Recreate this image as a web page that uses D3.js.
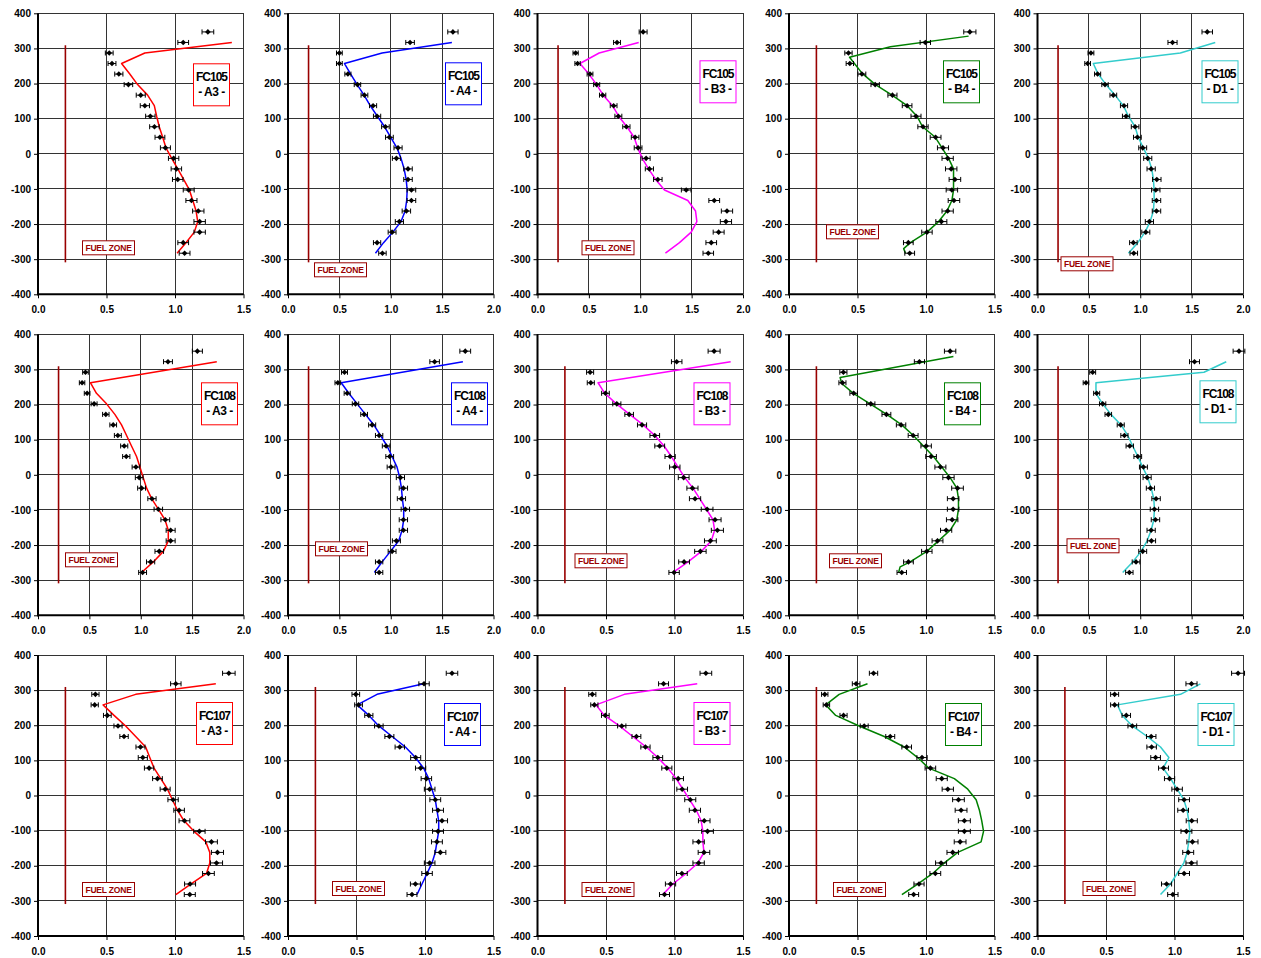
<!DOCTYPE html>
<html>
<head>
<meta charset="utf-8">
<script src="https://cdnjs.cloudflare.com/ajax/libs/d3/7.8.5/d3.min.js"></script>
<style>
  body { margin: 0; background: #fff; }
  svg { display: block; font-family: Arial, "Liberation Sans", sans-serif; }
</style>
</head>
<body>
<svg width="1261" height="958"></svg>
<script>
// heights (mm) of the measured points, one list per run
const levels105 = [347, 317, 287, 257, 227, 197, 167, 137, 107, 77, 47, 17, -13, -43, -73, -103, -133, -163, -193, -223, -253, -283];
const levels108 = [352, 322, 292, 262, 232, 202, 172, 142, 112, 82, 52, 22, -8, -38, -68, -98, -128, -158, -188, -218, -248, -278];
const levels107 = [348, 318, 288, 258, 228, 198, 168, 138, 108, 78, 48, 18, -12, -42, -72, -102, -132, -162, -192, -222, -252, -282];

// measured values (top to bottom, same order as the levels)
const fc105_A3 = [1.24, 1.06, 0.52, 0.54, 0.59, 0.66, 0.75, 0.78, 0.82, 0.85, 0.89, 0.93, 0.99, 1.01, 1.02, 1.10, 1.12, 1.17, 1.18, 1.18, 1.06, 1.07];
const fc105_A4 = [1.605, 1.188, 0.50, 0.50, 0.583, 0.676, 0.744, 0.828, 0.867, 0.948, 0.987, 1.071, 1.055, 1.168, 1.168, 1.201, 1.201, 1.152, 1.084, 1.013, 0.867, 0.919];
const fc105_B3 = [1.028, 0.774, 0.371, 0.390, 0.511, 0.576, 0.634, 0.741, 0.787, 0.865, 0.950, 0.979, 1.057, 1.089, 1.171, 1.447, 1.720, 1.844, 1.834, 1.763, 1.691, 1.662];
const fc105_B4 = [1.320, 0.995, 0.434, 0.444, 0.532, 0.629, 0.755, 0.862, 0.927, 0.978, 1.070, 1.124, 1.158, 1.184, 1.211, 1.189, 1.204, 1.158, 1.112, 1.007, 0.871, 0.881];
const fc105_D1 = [1.652, 1.314, 0.520, 0.488, 0.585, 0.657, 0.738, 0.842, 0.862, 0.950, 0.972, 1.024, 1.073, 1.106, 1.161, 1.151, 1.158, 1.158, 1.089, 1.054, 0.933, 0.937];

const fc108_A3 = [1.551, 1.265, 0.462, 0.429, 0.478, 0.546, 0.660, 0.732, 0.777, 0.839, 0.859, 0.953, 0.985, 1.008, 1.109, 1.171, 1.239, 1.291, 1.291, 1.180, 1.096, 1.018];
const fc108_A4 = [1.725, 1.427, 0.550, 0.485, 0.576, 0.657, 0.741, 0.819, 0.887, 0.955, 0.990, 1.003, 1.094, 1.123, 1.104, 1.142, 1.123, 1.123, 1.055, 1.013, 0.887, 0.887];
const fc108_B3 = [1.289, 1.016, 0.384, 0.389, 0.496, 0.579, 0.669, 0.763, 0.856, 0.892, 0.968, 1.002, 1.067, 1.131, 1.150, 1.238, 1.296, 1.313, 1.262, 1.189, 1.070, 0.997];
const fc108_B4 = [1.176, 0.952, 0.397, 0.390, 0.472, 0.597, 0.711, 0.818, 0.906, 1.001, 1.037, 1.105, 1.164, 1.230, 1.198, 1.198, 1.191, 1.147, 1.084, 1.006, 0.872, 0.823];
const fc108_D1 = [1.961, 1.528, 0.537, 0.472, 0.576, 0.634, 0.689, 0.810, 0.846, 0.898, 0.976, 1.031, 1.067, 1.099, 1.154, 1.138, 1.148, 1.106, 1.109, 1.024, 0.959, 0.894];

const fc107_A3 = [1.393, 1.006, 0.419, 0.414, 0.506, 0.584, 0.628, 0.748, 0.765, 0.811, 0.872, 0.928, 0.986, 1.030, 1.069, 1.178, 1.266, 1.310, 1.303, 1.244, 1.110, 1.108];
const fc107_A4 = [1.197, 0.993, 0.495, 0.515, 0.590, 0.663, 0.740, 0.816, 0.932, 0.968, 1.010, 1.034, 1.075, 1.095, 1.124, 1.095, 1.087, 1.112, 1.034, 1.015, 0.930, 0.905];
const fc107_B3 = [1.229, 0.920, 0.400, 0.415, 0.495, 0.615, 0.722, 0.788, 0.878, 0.944, 1.027, 1.056, 1.115, 1.149, 1.217, 1.241, 1.176, 1.215, 1.176, 1.054, 0.971, 0.927];
const fc107_B4 = [0.617, 0.490, 0.261, 0.273, 0.398, 0.549, 0.739, 0.859, 0.971, 1.032, 1.115, 1.159, 1.237, 1.256, 1.280, 1.280, 1.249, 1.195, 1.110, 1.068, 0.949, 0.910];
const fc107_D1 = [1.464, 1.124, 0.563, 0.563, 0.648, 0.692, 0.830, 0.833, 0.862, 0.920, 0.964, 1.019, 1.070, 1.063, 1.126, 1.087, 1.131, 1.100, 1.124, 1.070, 0.942, 0.988];

// calculated profiles, [value, height]
const fc105_A3_calc = [[1.415,317],[0.78,287],[0.61,257],[0.67,227],[0.727,197],[0.80,167],[0.849,137],[0.866,107],[0.885,77],[0.91,47],[0.934,17],[0.976,-13],[1.02,-43],[1.063,-73],[1.105,-103],[1.13,-133],[1.154,-163],[1.166,-193],[1.141,-223],[1.08,-253],[1.015,-283]];
const fc105_A4_calc = [[1.595,317],[0.916,287],[0.55,257],[0.61,227],[0.673,197],[0.74,167],[0.80,137],[0.87,107],[0.94,77],[1.00,47],[1.06,17],[1.10,-13],[1.13,-43],[1.15,-73],[1.16,-103],[1.155,-133],[1.14,-163],[1.10,-193],[1.02,-223],[0.93,-253],[0.851,-283]];
const fc105_B3_calc = [[0.985,317],[0.60,287],[0.413,257],[0.50,227],[0.575,197],[0.64,167],[0.73,137],[0.79,107],[0.87,77],[0.94,47],[0.975,17],[1.02,-13],[1.08,-43],[1.15,-73],[1.236,-103],[1.463,-133],[1.538,-163],[1.551,-193],[1.496,-223],[1.382,-253],[1.245,-283]];
const fc105_B4_calc = [[1.311,335],[0.74,305],[0.442,275],[0.534,229],[0.631,197],[0.752,167],[0.862,137],[0.934,107],[0.975,77],[1.068,47],[1.117,17],[1.165,-13],[1.201,-43],[1.201,-73],[1.201,-103],[1.189,-133],[1.153,-163],[1.092,-193],[1.007,-223],[0.886,-253],[0.837,-270],[0.85,-283]];
const fc105_D1_calc = [[1.730,317],[1.39,287],[0.543,257],[0.59,227],[0.667,197],[0.754,167],[0.836,137],[0.885,107],[0.950,77],[0.98,47],[1.03,17],[1.08,-13],[1.112,-43],[1.128,-73],[1.135,-103],[1.135,-133],[1.128,-163],[1.096,-193],[1.047,-223],[0.976,-253],[0.885,-283]];

const fc108_A3_calc = [[1.74,322],[0.511,262],[0.569,232],[0.667,202],[0.748,172],[0.813,142],[0.862,112],[0.91,82],[0.959,52],[0.992,22],[1.024,-8],[1.057,-38],[1.106,-68],[1.171,-98],[1.236,-128],[1.268,-158],[1.268,-188],[1.22,-218],[1.122,-248],[1.008,-278]];
const fc108_A4_calc = [[1.702,322],[0.518,262],[0.592,232],[0.673,202],[0.754,172],[0.835,142],[0.90,112],[0.964,82],[1.013,52],[1.061,22],[1.087,-8],[1.104,-38],[1.113,-68],[1.126,-98],[1.126,-128],[1.11,-158],[1.078,-188],[0.997,-218],[0.916,-248],[0.841,-278]];
const fc108_B3_calc = [[1.410,322],[0.442,262],[0.491,232],[0.576,202],[0.673,172],[0.771,142],[0.856,112],[0.924,82],[0.977,52],[1.026,22],[1.075,-8],[1.135,-38],[1.184,-68],[1.233,-98],[1.281,-128],[1.293,-158],[1.269,-188],[1.196,-218],[1.099,-248],[0.99,-278]];
const fc108_B4_calc = [[1.20,337],[0.373,277],[0.385,260],[0.47,232],[0.592,202],[0.713,172],[0.823,142],[0.908,112],[0.981,82],[1.054,52],[1.115,22],[1.176,-8],[1.225,-38],[1.237,-68],[1.237,-98],[1.225,-128],[1.176,-158],[1.091,-188],[1.006,-218],[0.884,-248],[0.811,-262],[0.80,-278]];
const fc108_D1_calc = [[1.837,322],[1.62,292],[0.569,262],[0.569,232],[0.634,202],[0.715,172],[0.813,142],[0.878,112],[0.927,82],[0.976,52],[1.024,22],[1.073,-8],[1.106,-38],[1.132,-68],[1.138,-98],[1.132,-128],[1.106,-158],[1.067,-188],[1.008,-218],[0.927,-248],[0.829,-278]];

const fc107_A3_calc = [[1.298,318],[0.713,288],[0.475,258],[0.555,228],[0.640,198],[0.713,168],[0.786,138],[0.816,108],[0.847,78],[0.896,48],[0.945,18],[0.981,-12],[1.018,-42],[1.066,-72],[1.139,-102],[1.225,-132],[1.254,-162],[1.254,-192],[1.230,-222],[1.115,-252],[1.006,-282]];
const fc107_A4_calc = [[0.990,318],[0.650,288],[0.505,258],[0.59,228],[0.663,198],[0.76,168],[0.857,138],[0.93,108],[0.99,78],[1.027,48],[1.051,18],[1.075,-12],[1.087,-42],[1.10,-72],[1.10,-102],[1.087,-132],[1.075,-162],[1.051,-192],[1.015,-222],[0.978,-252],[0.942,-282]];
const fc107_B3_calc = [[1.166,318],[0.634,288],[0.427,258],[0.488,228],[0.598,198],[0.695,168],[0.793,138],[0.878,108],[0.951,78],[1.012,48],[1.061,18],[1.11,-12],[1.159,-42],[1.195,-72],[1.207,-102],[1.207,-132],[1.215,-162],[1.171,-192],[1.085,-222],[0.988,-252],[0.915,-282]];
const fc107_B4_calc = [[0.573,318],[0.366,288],[0.268,258],[0.341,228],[0.512,198],[0.695,168],[0.841,138],[0.939,108],[1.02,78],[1.207,48],[1.305,18],[1.366,-12],[1.39,-42],[1.407,-72],[1.42,-102],[1.402,-132],[1.232,-162],[1.134,-192],[1.049,-222],[0.939,-252],[0.824,-282]];
const fc107_D1_calc = [[1.189,318],[1.044,288],[0.583,258],[0.619,228],[0.692,198],[0.801,168],[0.898,138],[0.959,108],[0.917,78],[0.971,48],[1.019,18],[1.068,-12],[1.092,-42],[1.104,-72],[1.112,-102],[1.104,-132],[1.092,-162],[1.068,-192],[1.019,-222],[0.971,-252],[0.898,-282]];

// error bars: absolute + relative part
const errAbs = 0.018, errRel = 0.02;
// fuel zone extent (mm) and position on the value axis
const fuelX = 0.2, fuelTop = 309, fuelBottom = -309;
const yTickValues = [-400, -300, -200, -100, 0, 100, 200, 300, 400];

const colors = { A3: "#ff0000", A4: "#0000ff", B3: "#ff00ff", B4: "#008000", D1: "#33cccc" };

// layout
const colLeft = [38, 288, 537.5, 789, 1037.5];
const rowTop = [13.3, 334.3, 655];
const pw = 205.5, ph = 281;

const panels = [
  { run: "FC105", loc: "A3", levels: levels105, meas: fc105_A3, calc: fc105_A3_calc, xMax: 1.5, tag: [155, 50], fuel: [44, 227] },
  { run: "FC105", loc: "A4", levels: levels105, meas: fc105_A4, calc: fc105_A4_calc, xMax: 2.0, tag: [157, 49], fuel: [26, 249] },
  { run: "FC105", loc: "B3", levels: levels105, meas: fc105_B3, calc: fc105_B3_calc, xMax: 2.0, tag: [162, 47], fuel: [44, 227] },
  { run: "FC105", loc: "B4", levels: levels105, meas: fc105_B4, calc: fc105_B4_calc, xMax: 1.5, tag: [154, 47], fuel: [37, 211] },
  { run: "FC105", loc: "D1", levels: levels105, meas: fc105_D1, calc: fc105_D1_calc, xMax: 2.0, tag: [164, 47], fuel: [23, 243] },
  { run: "FC108", loc: "A3", levels: levels108, meas: fc108_A3, calc: fc108_A3_calc, xMax: 2.0, tag: [163, 48], fuel: [27, 218] },
  { run: "FC108", loc: "A4", levels: levels108, meas: fc108_A4, calc: fc108_A4_calc, xMax: 2.0, tag: [163, 48], fuel: [27, 207] },
  { run: "FC108", loc: "B3", levels: levels108, meas: fc108_B3, calc: fc108_B3_calc, xMax: 1.5, tag: [156, 48], fuel: [37, 219] },
  { run: "FC108", loc: "B4", levels: levels108, meas: fc108_B4, calc: fc108_B4_calc, xMax: 1.5, tag: [155, 48], fuel: [40, 219] },
  { run: "FC108", loc: "D1", levels: levels108, meas: fc108_D1, calc: fc108_D1_calc, xMax: 2.0, tag: [162, 46], fuel: [29, 204] },
  { run: "FC107", loc: "A3", levels: levels107, meas: fc107_A3, calc: fc107_A3_calc, xMax: 1.5, tag: [158, 47], fuel: [44, 227] },
  { run: "FC107", loc: "A4", levels: levels107, meas: fc107_A4, calc: fc107_A4_calc, xMax: 1.5, tag: [156, 48], fuel: [44, 226] },
  { run: "FC107", loc: "B3", levels: levels107, meas: fc107_B3, calc: fc107_B3_calc, xMax: 1.5, tag: [156, 47], fuel: [44, 227] },
  { run: "FC107", loc: "B4", levels: levels107, meas: fc107_B4, calc: fc107_B4_calc, xMax: 1.5, tag: [156, 48], fuel: [44, 227] },
  { run: "FC107", loc: "D1", levels: levels107, meas: fc107_D1, calc: fc107_D1_calc, xMax: 1.5, tag: [160, 48], fuel: [45, 226] }
];

const svg = d3.select("svg");
const fuelRed = "#990000";

panels.forEach(function(p, i) {
  const row = Math.floor(i / 5), col = i % 5;
  const g = svg.append("g").attr("transform", `translate(${colLeft[col]},${rowTop[row]})`);
  const x = d3.scaleLinear().domain([0, p.xMax]).range([0, pw]);
  const y = d3.scaleLinear().domain([-400, 400]).range([ph, 0]);
  const xTickValues = d3.range(0, p.xMax + 0.001, 0.5);
  const color = colors[p.loc];

  // grid
  g.append("g").selectAll("line").data(yTickValues).join("line")
    .attr("x1", 0).attr("x2", pw)
    .attr("y1", d => y(d)).attr("y2", d => y(d))
    .attr("stroke", "#333").attr("stroke-width", 1).attr("shape-rendering", "crispEdges");
  g.append("g").selectAll("line").data(xTickValues).join("line")
    .attr("x1", d => x(d)).attr("x2", d => x(d))
    .attr("y1", 0).attr("y2", ph)
    .attr("stroke", "#333").attr("stroke-width", 1).attr("shape-rendering", "crispEdges");

  // axes
  const yAxis = d3.axisLeft(y).tickValues(yTickValues).tickSize(4).tickPadding(3).tickFormat(d => String(d));
  const xAxis = d3.axisBottom(x).tickValues(xTickValues).tickSize(4).tickPadding(8).tickFormat(d3.format(".1f"));
  const ya = g.append("g").call(yAxis);
  const xa = g.append("g").attr("transform", `translate(0,${ph})`).call(xAxis);
  [ya, xa].forEach(a => {
    a.select(".domain").remove();
    a.selectAll(".tick line").attr("stroke", "#000").attr("stroke-width", 1);
    a.selectAll("text").attr("fill", "#000").attr("font-size", "10px").attr("font-weight", "bold")
      .attr("font-family", "Arial, 'Liberation Sans', sans-serif");
  });
  g.append("line").attr("x1", 0).attr("x2", 0).attr("y1", 0).attr("y2", ph + 1)
    .attr("stroke", "#000").attr("stroke-width", 2);
  g.append("line").attr("x1", -1).attr("x2", pw).attr("y1", ph).attr("y2", ph)
    .attr("stroke", "#000").attr("stroke-width", 2);

  // fuel zone marker
  g.append("line")
    .attr("x1", x(fuelX)).attr("x2", x(fuelX))
    .attr("y1", y(fuelTop)).attr("y2", y(fuelBottom))
    .attr("stroke", fuelRed).attr("stroke-width", 1.6);
  const fz = g.append("g").attr("transform", `translate(${p.fuel[0]},${p.fuel[1]})`);
  fz.append("rect").attr("x", 0.5).attr("y", 0.5).attr("width", 52).attr("height", 14)
    .attr("fill", "#fff").attr("stroke", fuelRed).attr("stroke-width", 1);
  fz.append("text").attr("x", 26.5).attr("y", 10.6).attr("text-anchor", "middle")
    .attr("font-size", "8.5px").attr("font-weight", "bold").attr("fill", fuelRed)
    .attr("letter-spacing", "-0.2px").text("FUEL ZONE");

  // calculated profile
  g.append("path").datum(p.calc)
    .attr("fill", "none").attr("stroke", color).attr("stroke-width", 1.5)
    .attr("stroke-linejoin", "round")
    .attr("d", d3.line().x(d => x(d[0])).y(d => y(d[1])));

  // measurements with error bars
  const pts = p.meas.map((v, k) => ({ v: v, h: p.levels[k], e: errAbs + errRel * v }));
  const eb = g.append("g").attr("stroke", "#000").attr("stroke-width", 1);
  pts.forEach(d => {
    const cy = y(d.h);
    eb.append("line").attr("x1", x(d.v - d.e)).attr("x2", x(d.v + d.e)).attr("y1", cy).attr("y2", cy);
    eb.append("line").attr("x1", x(d.v - d.e)).attr("x2", x(d.v - d.e)).attr("y1", cy - 2.5).attr("y2", cy + 2.5);
    eb.append("line").attr("x1", x(d.v + d.e)).attr("x2", x(d.v + d.e)).attr("y1", cy - 2.5).attr("y2", cy + 2.5);
  });
  g.append("g").selectAll("path").data(pts).join("path")
    .attr("transform", d => `translate(${x(d.v)},${y(d.h)})`)
    .attr("d", d3.symbol(d3.symbolDiamond2, 20))
    .attr("fill", "#000");

  // run / location tag
  const tg = g.append("g").attr("transform", `translate(${p.tag[0]},${p.tag[1]})`);
  tg.append("rect").attr("x", 0.5).attr("y", 0.5).attr("width", 36).attr("height", 42)
    .attr("fill", "#fff").attr("stroke", color).attr("stroke-width", 1);
  tg.append("text").attr("x", 18.5).attr("y", 17.5).attr("text-anchor", "middle")
    .attr("font-size", "12px").attr("font-weight", "bold").attr("letter-spacing", "-1px")
    .attr("fill", "#000").text(p.run);
  tg.append("text").attr("x", 18.5).attr("y", 33).attr("text-anchor", "middle")
    .attr("font-size", "12px").attr("font-weight", "bold").attr("letter-spacing", "-0.5px")
    .attr("fill", "#000").text(`- ${p.loc} -`);
});
</script>
</body>
</html>
